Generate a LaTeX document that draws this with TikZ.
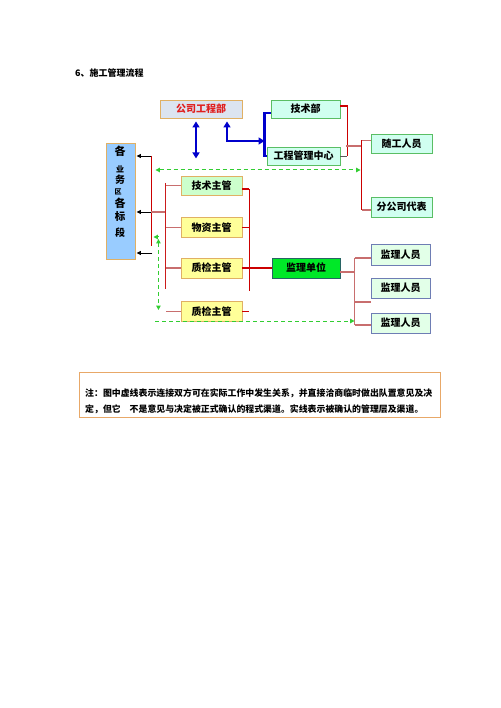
\documentclass[tikz,border=0pt]{standalone}
\usepackage{fontspec}
\setmainfont{Noto Sans CJK SC}
\usetikzlibrary{arrows.meta,calc}
\definecolor{tanb}{RGB}{224,176,100}
\definecolor{gsfill}{RGB}{220,228,240}
\definecolor{gstext}{RGB}{224,30,30}
\definecolor{cyfill}{RGB}{208,255,240}
\definecolor{cyb}{RGB}{90,190,100}
\definecolor{lgfill}{RGB}{204,255,204}
\definecolor{yfill}{RGB}{255,255,153}
\definecolor{jlfill}{RGB}{0,232,40}
\definecolor{jlb}{RGB}{40,100,100}
\definecolor{ryfill}{RGB}{226,255,232}
\definecolor{ryb}{RGB}{110,125,180}
\definecolor{lbfill}{RGB}{153,204,255}
\definecolor{bluel}{RGB}{0,0,204}
\definecolor{redl}{RGB}{204,0,0}
\definecolor{pinkl}{RGB}{200,110,110}
\definecolor{grl}{RGB}{50,205,50}
\definecolor{noteb}{RGB}{232,168,104}
\tikzset{
  Gt/.tip={Triangle[width=4.5pt,length=4.5pt]},
  Bt/.tip={Triangle[width=7pt,length=6pt]},
  Kt/.tip={Triangle[width=4pt,length=4.5pt]}
}
\begin{document}
\begin{tikzpicture}[x=1pt,y=-1pt,
  every node/.style={inner sep=0pt},
  boxtxt/.style={font=\bfseries\fontsize{10}{12}\selectfont},
  gsbox/.style={boxtxt, draw=tanb, fill=gsfill, text=gstext, line width=0.9pt, minimum width=82pt, minimum height=18pt},
  cybox/.style={boxtxt, draw=cyb, fill=cyfill, line width=0.9pt, minimum height=19pt},
  zgbox/.style={boxtxt, draw=tanb, line width=0.9pt, minimum width=61pt, minimum height=20pt},
  jlbox/.style={boxtxt, draw=jlb, fill=jlfill, line width=0.9pt, minimum width=68pt, minimum height=20pt},
  rybox/.style={boxtxt, draw=ryb, fill=ryfill, line width=0.9pt, minimum width=59pt, minimum height=20pt},
  bl/.style={draw=bluel, line width=2.4pt},
  rd/.style={draw=redl, line width=1.2pt},
  pk/.style={draw=pinkl, line width=1.2pt},
  bk/.style={draw=black, line width=0.9pt, -Kt},
  gd/.style={draw=grl, line width=1pt, dash pattern=on 4pt off 3pt}
]
\path[use as bounding box] (0,0) rectangle (500,708);

\node[anchor=west, font=\bfseries\fontsize{9}{11}\selectfont] (title) at (75,73) {6、施工管理流程};

% top boxes
\node[gsbox] (gs) at (201,109) {公司工程部};
\node[cybox, minimum width=69pt, minimum height=18pt] (jsb) at (305.5,109) {技术部};
\node[cybox, minimum width=73pt, minimum height=18pt] (gcz) at (303.5,156) {工程管理中心};
\node[cybox, minimum width=61pt] (sg) at (401.5,143.5) {随工人员};
\node[cybox, minimum width=61pt, minimum height=20pt] (fgs) at (401.5,207) {分公司代表};

% left box
\node[draw=tanb, fill=lbfill, line width=0.9pt, minimum width=29pt, minimum height=116pt] (L) at (120.5,201) {};
\node[font=\bfseries\fontsize{11}{11}\selectfont] (l1) at (120,151) {各};
\node[font=\bfseries\fontsize{8}{8}\selectfont] (l2) at (120,169) {业};
\node[font=\bfseries\fontsize{10}{10}\selectfont] (l3) at (120,180) {务};
\node[font=\bfseries\fontsize{7}{7}\selectfont] (l4) at (118,192) {区};
\node[font=\bfseries\fontsize{11}{11}\selectfont] (l5) at (120,203) {各};
\node[font=\bfseries\fontsize{10.5}{10.5}\selectfont] (l6) at (120,217) {标};
\node[font=\bfseries\fontsize{10}{10}\selectfont] (l7) at (120,233) {段};

% middle boxes
\node[zgbox, fill=lgfill, minimum height=19pt] (jszg) at (211.5,185.5) {技术主管};
\node[zgbox, fill=yfill] (wzzg) at (211.5,227.5) {物资主管};
\node[zgbox, fill=yfill] (zj1) at (211.5,268) {质检主管};
\node[zgbox, fill=yfill] (zj2) at (211.5,311.5) {质检主管};
\node[jlbox] (jldw) at (306,268) {监理单位};
\node[rybox, minimum height=21pt] (ry1) at (400.5,254.5) {监理人员};
\node[rybox] (ry2) at (400.5,288) {监理人员};
\node[rybox] (ry3) at (400.5,323) {监理人员};

% blue connectors
\coordinate (dbl) at ($(gs.south)+(-5,40)$);
\draw[bl, Bt-Bt] ($(gs.south)+(-5,3)$) -- (dbl);
\coordinate (bkmid) at ($(gcz.west)+(-2,-15)$);
\draw[bl, Bt-Bt] ($(gs.south)+(26,3)$) |- (bkmid);
\draw[bl] ($(jsb.west)+(0,4)$) -| ($(gcz.west)+(-2,0)$) -- (gcz.west);

% upper right red/pink
\draw[rd] ($(jsb.east)+(0,-3)$) -| ($(gcz.east)+(7,0)$);
\draw[draw=gray!70!black, line width=0.9pt] (gcz.east) -- ++(7,0);
\draw[pk] ($(gcz.east)+(6,-10)$) -- ($(sg.west)+(-9,2.5)$);
\draw[rd] ($(sg.west)+(-9,-3)$) -- ($(fgs.west)+(-9,3)$);
\draw[pk] ($(sg.west)+(-9,-3)$) -- ($(sg.west)+(0,-3)$);
\draw[pk] ($(fgs.west)+(-9,3)$) -- ($(fgs.west)+(0,3)$);

% left side
\draw[rd] ($(L.east)+(16,-45)$) -- ($(L.east)+(16,45)$);
\draw[bk] ($(L.east)+(16,-45)$) -- ($(L.east)+(1,-45)$);
\draw[bk] ($(L.east)+(16,11)$) -- ($(L.east)+(1,11)$);
\coordinate (lfree) at ($(L.east)+(17,52)$);
\draw[bk] (lfree) -- ($(L.east)+(1,52)$);
\draw[pk] ($(L.east)+(16,11)$) -- ($(L.east)+(31,11)$);
\draw[draw=redl!75!pinkl, line width=1.2pt] ($(jszg.west)+(-15,-2.5)$) -- ($(jszg.west)+(-15,103.5)$);
\draw[pk] (jszg.west) -- ++(-15,0);
\draw[pk] (wzzg.west) -- ++(-15,0);
\draw[pk] (zj1.west) -- ++(-15,0);
\draw[pk] (zj2.west) -- ++(-15,0);

% right of supervisors
\draw[rd] ($(jszg.east)+(7,3.5)$) -- ($(jszg.east)+(7,105.5)$);
\draw[rd] ($(jszg.east)+(0,3.5)$) -- ++(7,0);
\draw[rd] (wzzg.east) -- ++(7,0);
\draw[rd] (zj1.east) -- ++(7,0);
\draw[draw=redl, line width=2pt] ($(zj1.east)+(7,0)$) -- (jldw.west);
\draw[rd] (zj2.east) -- ++(7,0);

% right of jldw
\draw[pk] ($(jldw.east)+(0,4)$) -- ++(15,0);
\draw[pk] ($(ry1.west)+(-16,3.5)$) -- ($(ry3.west)+(-16,2)$);
\draw[pk] ($(ry1.west)+(-16,3.5)$) -- ($(ry1.west)+(0,3.5)$);
\draw[pk] ($(ry2.west)+(-16,14)$) -- ($(ry2.west)+(0,14)$);
\draw[pk] ($(ry3.west)+(-16,2)$) -- ($(ry3.west)+(0,2)$);

% green dashed
\draw[gd, Gt-Gt] ($(L.east)+(20,-31)$) -- ($(sg.west)+(-10,26.5)$);
\draw[gd, -Gt] ($(L.east)+(23,36)$) -- ($(L.east)+(18,36)$);
\draw[gd, Gt-Gt] ($(L.east)+(23,38)$) -- ($(L.east)+(23,109)$);
\coordinate (gfree) at ($(L.east)+(20,120)$);
\draw[gd, -Gt] (gfree) -- ($(ry3.west)+(-16,-2)$);

% note box
\node[draw=noteb, line width=0.9pt, minimum width=361pt, minimum height=45pt, anchor=north west] (nb) at (79,372) {};
\node[anchor=west, font=\bfseries\fontsize{8.9}{10}\selectfont] (n1) at (85,393) {注：图中虚线表示连接双方可在实际工作中发生关系，并直接洽商临时做出队置意见及决};
\node[anchor=west, font=\bfseries\fontsize{8.9}{10}\selectfont] (n2) at (85,409) {定，但它　不是意见与决定被正式确认的程式渠道。实线表示被确认的管理层及渠道。};
\end{tikzpicture}
\end{document}
